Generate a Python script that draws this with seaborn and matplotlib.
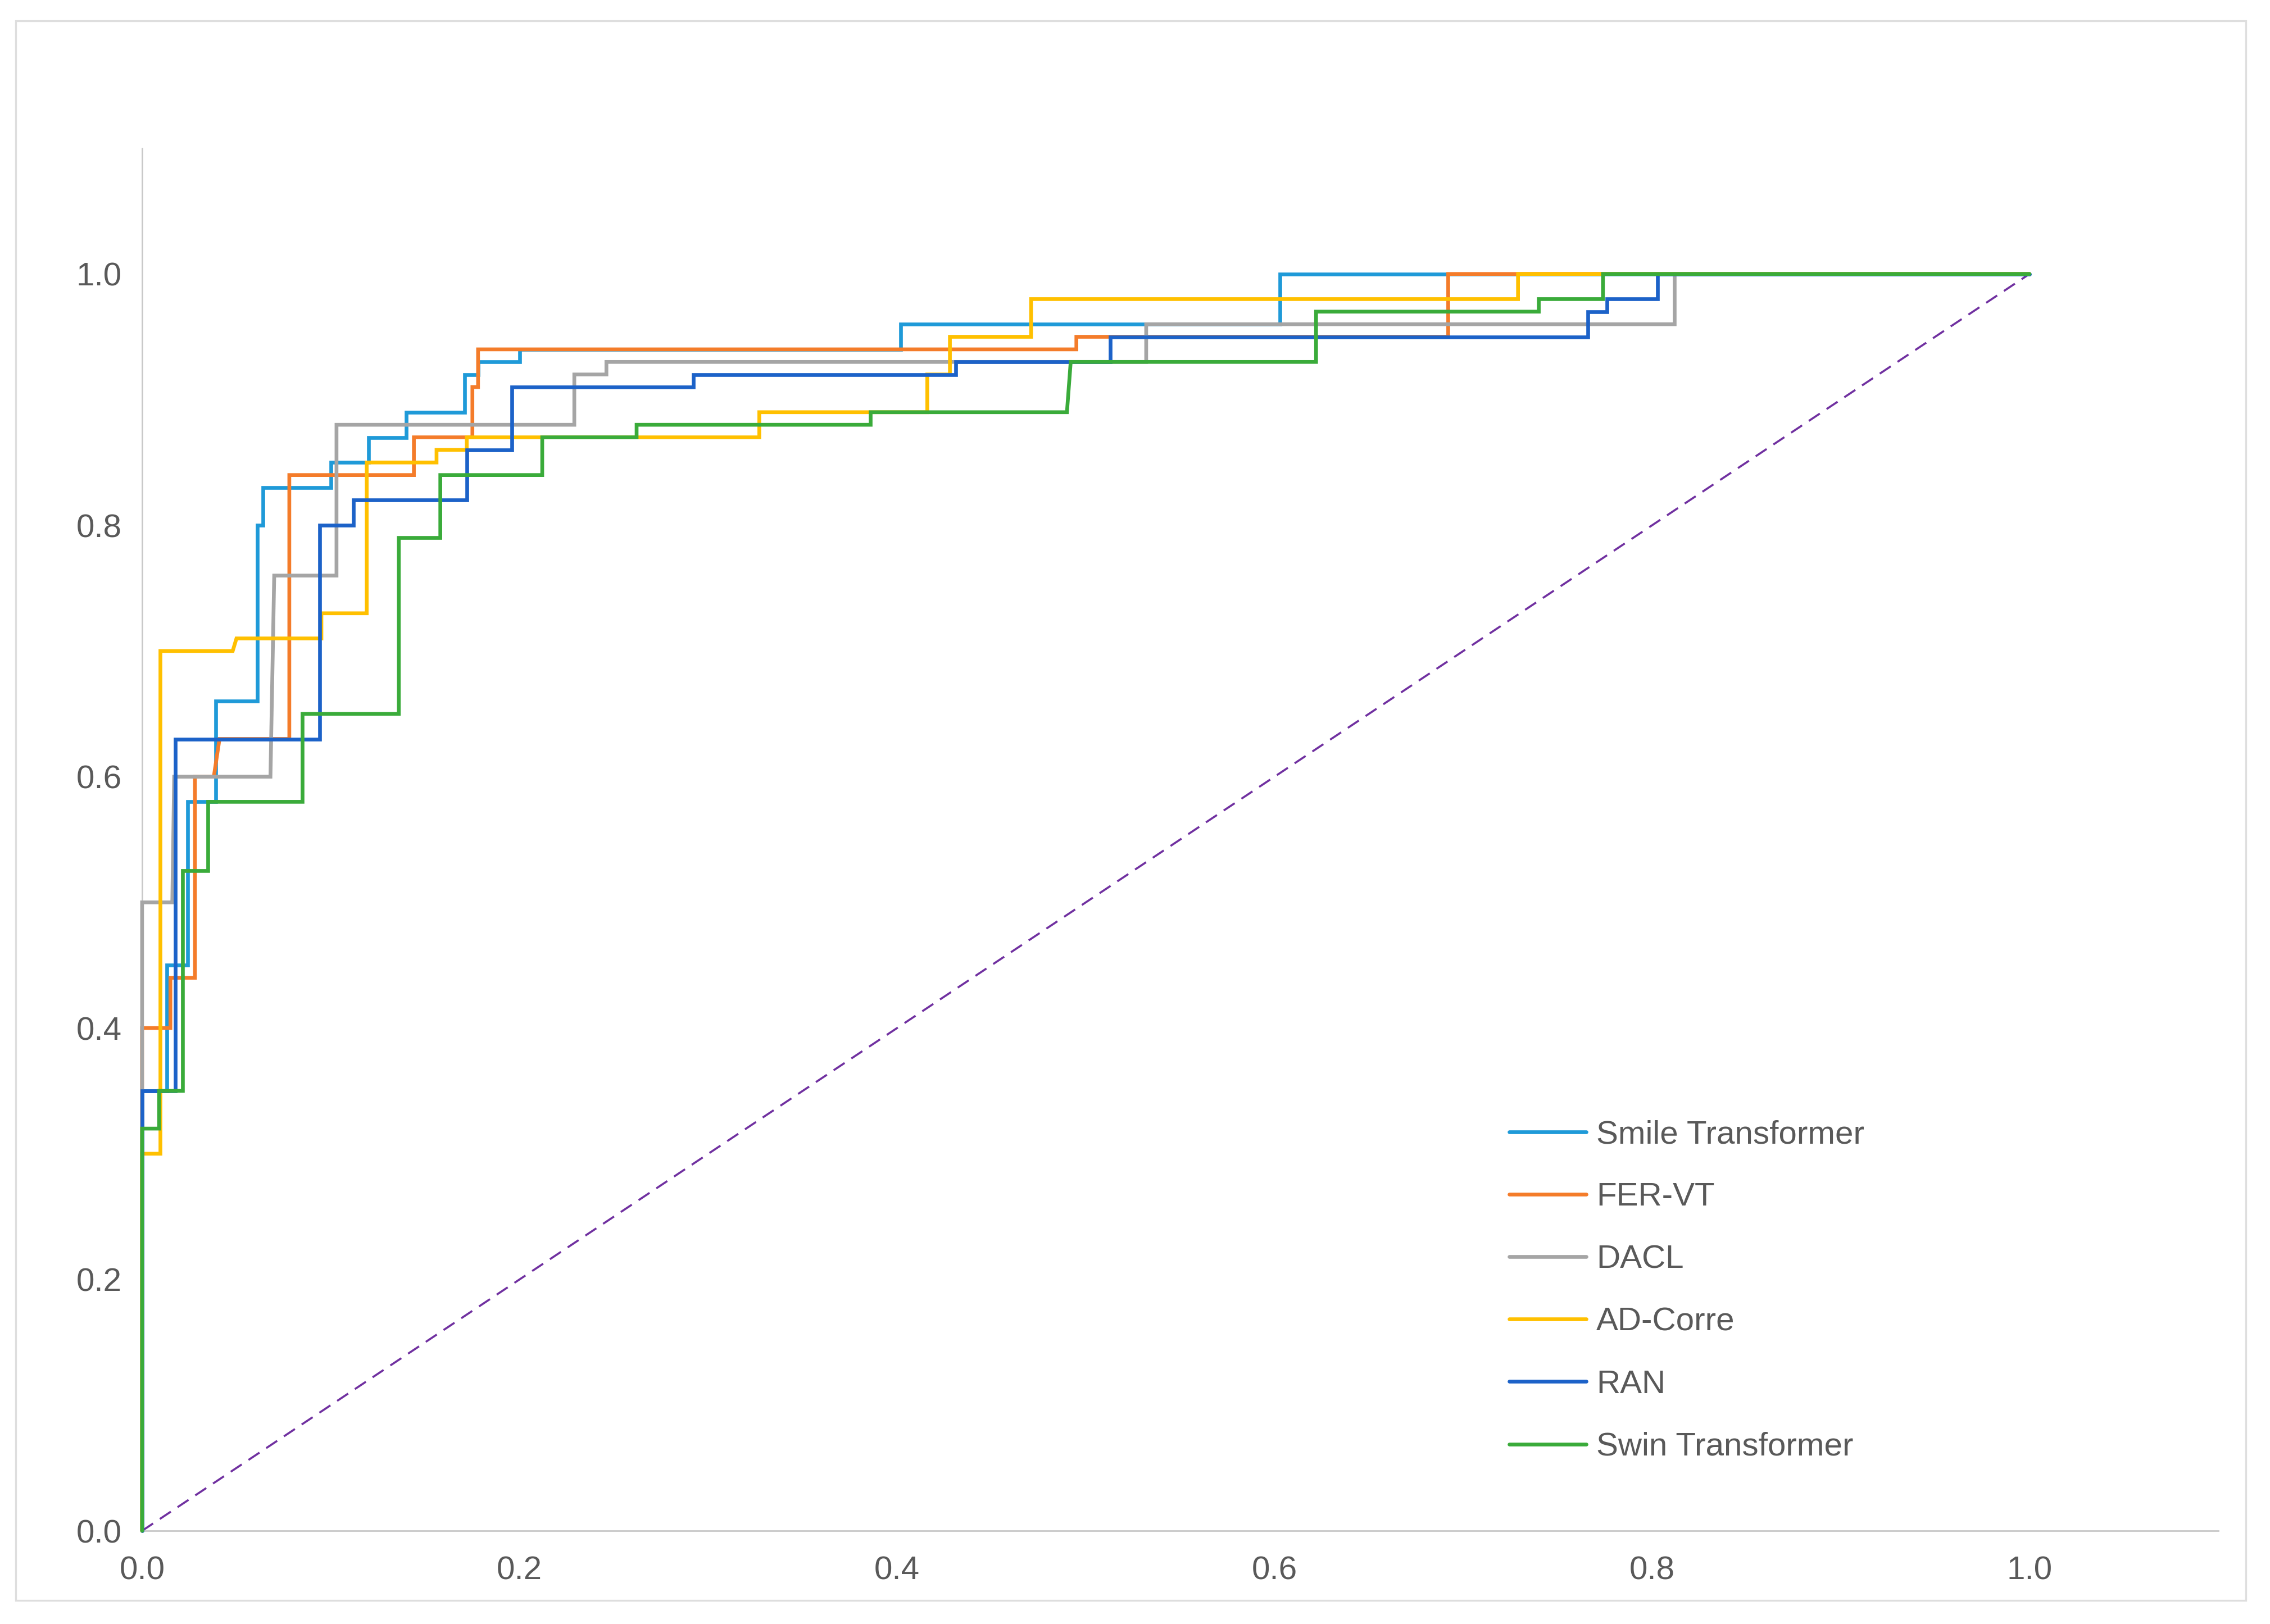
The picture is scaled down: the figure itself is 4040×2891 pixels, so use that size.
import matplotlib
matplotlib.use("Agg")
import matplotlib.pyplot as plt
import seaborn as sns
from matplotlib.patches import Rectangle

sns.set_theme(style="white")
plt.rcParams["font.family"] = ["Liberation Sans", "DejaVu Sans"]

# -------------------------------
# ROC points
# -------------------------------
models = ["Smile Transformer", "FER-VT", "DACL", "AD-Corre", "RAN", "Swin Transformer"]
colors = ["#1f9ad8", "#f47c2a", "#a5a5a5", "#ffc000", "#1c62c8", "#3aab3a"]

smile_fpr = [0, 0, 0.013, 0.013, 0.024, 0.024, 0.039, 0.039, 0.061, 0.061, 0.064, 0.064,
             0.100, 0.100, 0.120, 0.120, 0.140, 0.140, 0.171, 0.171, 0.178, 0.178,
             0.200, 0.200, 0.402, 0.402, 0.603, 0.603, 1.0]
smile_tpr = [0, 0.35, 0.35, 0.45, 0.45, 0.58, 0.58, 0.66, 0.66, 0.80, 0.80, 0.83,
             0.83, 0.85, 0.85, 0.87, 0.87, 0.89, 0.89, 0.92, 0.92, 0.93,
             0.93, 0.94, 0.94, 0.96, 0.96, 1.0, 1.0]

fer_fpr = [0, 0, 0.015, 0.015, 0.028, 0.028, 0.038, 0.041, 0.078, 0.078, 0.144, 0.144,
           0.175, 0.175, 0.178, 0.178, 0.495, 0.495, 0.692, 0.692, 1.0]
fer_tpr = [0, 0.40, 0.40, 0.44, 0.44, 0.60, 0.60, 0.63, 0.63, 0.84, 0.84, 0.87,
           0.87, 0.91, 0.91, 0.94, 0.94, 0.95, 0.95, 1.0, 1.0]

dacl_fpr = [0, 0, 0.016, 0.017, 0.068, 0.070, 0.103, 0.103, 0.229, 0.229, 0.246, 0.246,
            0.532, 0.532, 0.812, 0.812, 1.0]
dacl_tpr = [0, 0.50, 0.50, 0.60, 0.60, 0.76, 0.76, 0.88, 0.88, 0.92, 0.92, 0.93,
            0.93, 0.96, 0.96, 1.0, 1.0]

adcorre_fpr = [0, 0, 0.0097, 0.0097, 0.048, 0.050, 0.095, 0.095, 0.119, 0.119, 0.156, 0.156,
               0.172, 0.172, 0.327, 0.327, 0.416, 0.416, 0.428, 0.428, 0.471, 0.471,
               0.729, 0.729, 1.0]
adcorre_tpr = [0, 0.30, 0.30, 0.70, 0.70, 0.71, 0.71, 0.73, 0.73, 0.85, 0.85, 0.86,
               0.86, 0.87, 0.87, 0.89, 0.89, 0.92, 0.92, 0.95, 0.95, 0.98,
               0.98, 1.0, 1.0]

ran_fpr = [0, 0, 0.0175, 0.0175, 0.094, 0.094, 0.112, 0.112, 0.172, 0.172, 0.196, 0.196,
           0.292, 0.292, 0.431, 0.431, 0.513, 0.513, 0.766, 0.766, 0.776, 0.776,
           0.803, 0.803, 1.0]
ran_tpr = [0, 0.35, 0.35, 0.63, 0.63, 0.80, 0.80, 0.82, 0.82, 0.86, 0.86, 0.91,
           0.91, 0.92, 0.92, 0.93, 0.93, 0.95, 0.95, 0.97, 0.97, 0.98,
           0.98, 1.0, 1.0]

swin_fpr = [0, 0, 0.009, 0.009, 0.0216, 0.0216, 0.035, 0.035, 0.085, 0.085, 0.136, 0.136,
            0.158, 0.158, 0.212, 0.212, 0.262, 0.262, 0.386, 0.386, 0.490, 0.492,
            0.622, 0.622, 0.740, 0.740, 0.774, 0.774, 1.0]
swin_tpr = [0, 0.32, 0.32, 0.35, 0.35, 0.525, 0.525, 0.58, 0.58, 0.65, 0.65, 0.79,
            0.79, 0.84, 0.84, 0.87, 0.87, 0.88, 0.88, 0.89, 0.89, 0.93,
            0.93, 0.97, 0.97, 0.98, 0.98, 1.0, 1.0]

chance_fpr = [0, 1]
chance_tpr = [0, 1]

tick_values = [0.0, 0.2, 0.4, 0.6, 0.8, 1.0]
tick_labels = ["0.0", "0.2", "0.4", "0.6", "0.8", "1.0"]

curves = [(smile_fpr, smile_tpr), (fer_fpr, fer_tpr), (dacl_fpr, dacl_tpr),
          (adcorre_fpr, adcorre_tpr), (ran_fpr, ran_tpr), (swin_fpr, swin_tpr)]

# -------------------------------
# Figure
# -------------------------------
fig = plt.figure(figsize=(40.4, 28.91), dpi=100)
fig.patch.set_facecolor("white")
fig.patches.append(Rectangle((0.0069, 0.0145), 0.9824, 0.9727, transform=fig.transFigure,
                             fill=False, edgecolor="#dedede", linewidth=2.4))

ax = fig.add_axes([0.0626, 0.0574, 0.9146, 0.8513])

sns.lineplot(x=chance_fpr, y=chance_tpr, sort=False, estimator=None, color="#7030a0",
             linewidth=2.6, linestyle=(0, (6.5, 4)), zorder=3, ax=ax)

for name, (fpr, tpr), col in zip(models, curves, colors):
    sns.lineplot(x=fpr, y=tpr, sort=False, estimator=None, color=col, linewidth=4.8,
                 label=name, solid_joinstyle="miter", zorder=3, clip_on=False, ax=ax)

ax.set_xlim(0, 1.1)
ax.set_ylim(0, 1.1)
ax.set_xticks(tick_values)
ax.set_xticklabels(tick_labels)
ax.set_yticks(tick_values)
ax.set_yticklabels(tick_labels)
ax.tick_params(axis="x", length=0, pad=32, labelsize=42, labelcolor="#595959")
ax.tick_params(axis="y", length=0, pad=26, labelsize=42, labelcolor="#595959")
ax.set_xlabel("")
ax.set_ylabel("")
for side in ["top", "right"]:
    ax.spines[side].set_visible(False)
for side in ["left", "bottom"]:
    ax.spines[side].set_color("#c8c8c8")
    ax.spines[side].set_linewidth(2.0)

handles, labels = ax.get_legend_handles_labels()
ax.legend(handles, labels, loc="upper left", bbox_to_anchor=(0.6585, 0.2974),
          frameon=False, fontsize=42, labelspacing=0.98, handlelength=2.35,
          handletextpad=0.31, borderpad=0, borderaxespad=0, labelcolor="#595959")

fig.savefig("out.png", dpi=100, facecolor="white")
